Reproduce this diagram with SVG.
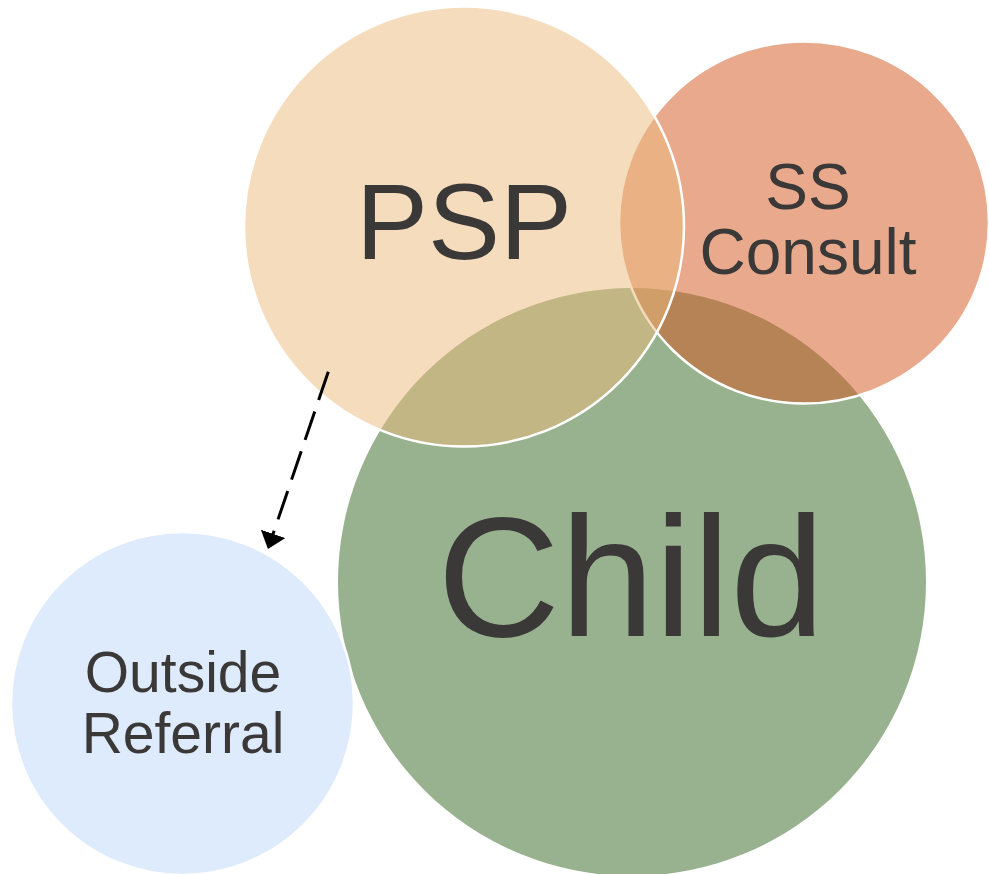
<svg xmlns="http://www.w3.org/2000/svg" width="989" height="874" viewBox="0 0 989 874">
  <style>
    .lbl { font-family: "Liberation Sans", Arial, sans-serif; fill: #3B3838; text-anchor: middle; }
    .ring { stroke: #FFFFFF; stroke-width: 2.5; }
    .conn { fill: none; stroke: #000000; stroke-width: 3; stroke-dasharray: 30 12; }
  </style>
  <defs>
    <marker id="arrow" markerUnits="userSpaceOnUse" markerWidth="16" markerHeight="26" refX="1" refY="13" orient="auto">
      <path d="M0,0 L16,13 L0,26 Z" fill="#000000"/>
    </marker>
  </defs>
  <rect width="989" height="874" fill="#FFFFFF"/>
  <g id="node-child">
    <circle cx="632" cy="582" r="294" fill="#98B28F"/>
    <text class="lbl" x="631" y="636" font-size="170">Child</text>
  </g>
  <g id="node-ss-consult">
    <ellipse class="ring" cx="804" cy="222.5" rx="185" ry="181" fill="#D1531B" fill-opacity="0.5"/>
    <text class="lbl" x="808" y="209" font-size="64">SS</text>
    <text class="lbl" x="808" y="274" font-size="64">Consult</text>
  </g>
  <g id="node-psp">
    <circle class="ring" cx="464" cy="226.5" r="220" fill="#EBB97B" fill-opacity="0.5"/>
    <text class="lbl" x="464" y="259" font-size="108">PSP</text>
  </g>
  <g id="node-outside-referral">
    <circle class="ring" cx="182.5" cy="703.5" r="171.5" fill="#DDEBFC"/>
    <text class="lbl" x="183" y="692" font-size="57">Outside</text>
    <text class="lbl" x="183" y="753" font-size="57">Referral</text>
  </g>
  <g id="connectors">
    <path class="conn" d="M328.3,371.7 L272.8,534.8" marker-end="url(#arrow)"/>
  </g>
</svg>
